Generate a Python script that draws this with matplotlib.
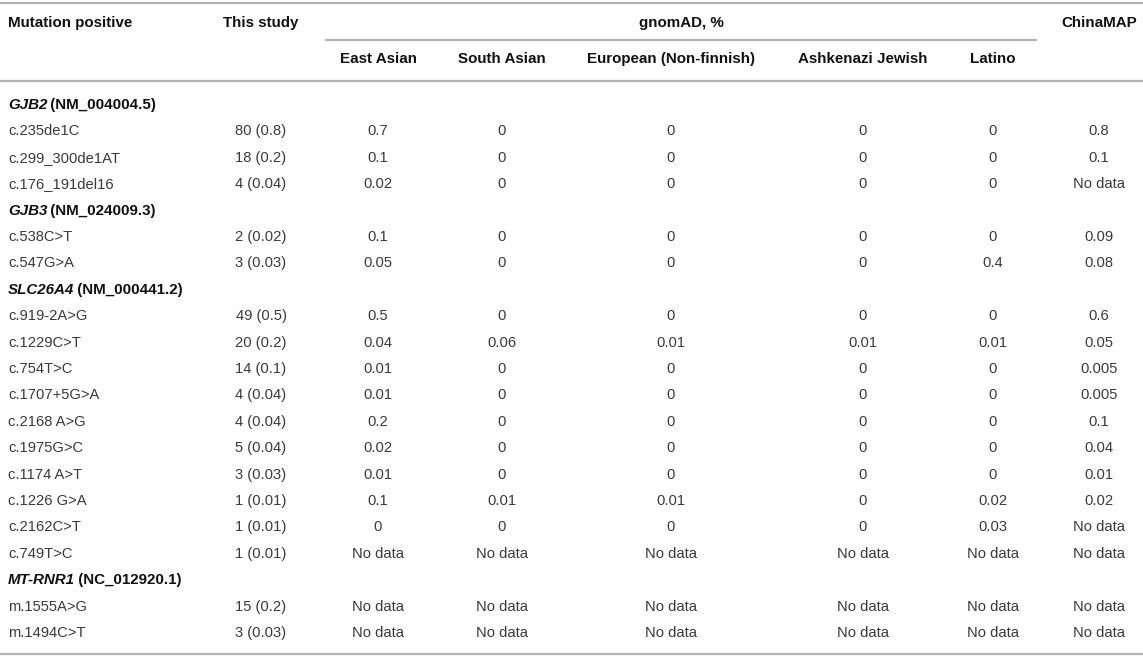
import matplotlib
matplotlib.use("Agg")
import matplotlib.pyplot as plt
from matplotlib.transforms import offset_copy

plt.rcParams["font.family"] = ["Liberation Sans", "DejaVu Sans"]

# gene groups: (gene, transcript)
genes = [("GJB2", "NM_004004.5"), ("GJB3", "NM_024009.3"),
         ("SLC26A4", "NM_000441.2"), ("MT-RNR1", "NC_012920.1")]

# variants per gene
variants = [
    ["c.235de1C", "c.299_300de1AT", "c.176_191del16"],
    ["c.538C>T", "c.547G>A"],
    ["c.919-2A>G", "c.1229C>T", "c.754T>C", "c.1707+5G>A", "c.2168 A>G",
     "c.1975G>C", "c.1174 A>T", "c.1226 G>A", "c.2162C>T", "c.749T>C"],
    ["m.1555A>G", "m.1494C>T"],
]
this_study = [
    ["80 (0.8)", "18 (0.2)", "4 (0.04)"],
    ["2 (0.02)", "3 (0.03)"],
    ["49 (0.5)", "20 (0.2)", "14 (0.1)", "4 (0.04)", "4 (0.04)",
     "5 (0.04)", "3 (0.03)", "1 (0.01)", "1 (0.01)", "1 (0.01)"],
    ["15 (0.2)", "3 (0.03)"],
]
ND = "No data"
east_asian = [["0.7", "0.1", "0.02"], ["0.1", "0.05"],
              ["0.5", "0.04", "0.01", "0.01", "0.2", "0.02", "0.01", "0.1", "0", ND],
              [ND, ND]]
south_asian = [["0", "0", "0"], ["0", "0"],
               ["0", "0.06", "0", "0", "0", "0", "0", "0.01", "0", ND],
               [ND, ND]]
european = [["0", "0", "0"], ["0", "0"],
            ["0", "0.01", "0", "0", "0", "0", "0", "0.01", "0", ND],
            [ND, ND]]
ashkenazi = [["0", "0", "0"], ["0", "0"],
             ["0", "0.01", "0", "0", "0", "0", "0", "0", "0", ND],
             [ND, ND]]
latino = [["0", "0", "0"], ["0", "0.4"],
          ["0", "0.01", "0", "0", "0", "0", "0", "0.02", "0.03", ND],
          [ND, ND]]
chinamap = [["0.8", "0.1", ND], ["0.09", "0.08"],
            ["0.6", "0.05", "0.005", "0.005", "0.1", "0.04", "0.01", "0.02", ND, ND],
            [ND, ND]]

sub_headers = ["East Asian", "South Asian", "European (Non-finnish)",
               "Ashkenazi Jewish", "Latino"]
value_cols = [this_study, east_asian, south_asian, european, ashkenazi,
              latino, chinamap]

W, H = 1143, 656
fig = plt.figure(figsize=(W / 100, H / 100), dpi=100)
ax = fig.add_axes([0, 0, 1, 1])
ax.set_xlim(0, W)
ax.set_ylim(H, 0)
ax.axis("off")

col_x = [261, 378, 502, 671, 863, 993, 1099]
label_x = 8
fs_head = 10.9
fs = 10.6
line_c = "#b3b3b3"
txt_c = "#3a3a3a"
head_c = "#111111"

# rules
for y in (2.5, 80.5, 653.5):
    ax.plot([0, W], [y, y], color=line_c, lw=1.6, solid_capstyle="butt")
ax.plot([325, 1037], [39.5, 39.5], color=line_c, lw=1.6, solid_capstyle="butt")

# headers
hy1, hy2 = 23, 59
hkw = dict(fontsize=fs_head, fontweight="bold", color=head_c, va="center")
ax.text(label_x, hy1, "Mutation positive", **hkw)
ax.text(col_x[0], hy1, "This study", ha="center", **hkw)
ax.text(681, hy1, "gnomAD, %", ha="center", **hkw)
ax.text(col_x[-1], hy1, "ChinaMAP", ha="center", **hkw)
for x, h in zip(col_x[1:6], sub_headers):
    ax.text(x, hy2, h, ha="center", **hkw)

# body
y0, step = 105, 26.4
renderer = fig.canvas.get_renderer()
row = 0
for g, (gene, tx) in enumerate(genes):
    y = y0 + row * step
    t = ax.text(label_x, y, gene, style="italic", **hkw)
    w = t.get_window_extent(renderer).width - 1.5
    ax.text(label_x, y, " (" + tx + ")",
            transform=offset_copy(ax.transData, fig=fig, x=w, y=0, units="dots"),
            **hkw)
    row += 1
    for i, v in enumerate(variants[g]):
        y = y0 + row * step
        ax.text(label_x, y, v, fontsize=fs, color=txt_c, va="center")
        for x, col in zip(col_x, value_cols):
            ax.text(x, y, col[g][i], fontsize=fs, color=txt_c,
                    va="center", ha="center")
        row += 1

fig.savefig("out.png", dpi=100)
